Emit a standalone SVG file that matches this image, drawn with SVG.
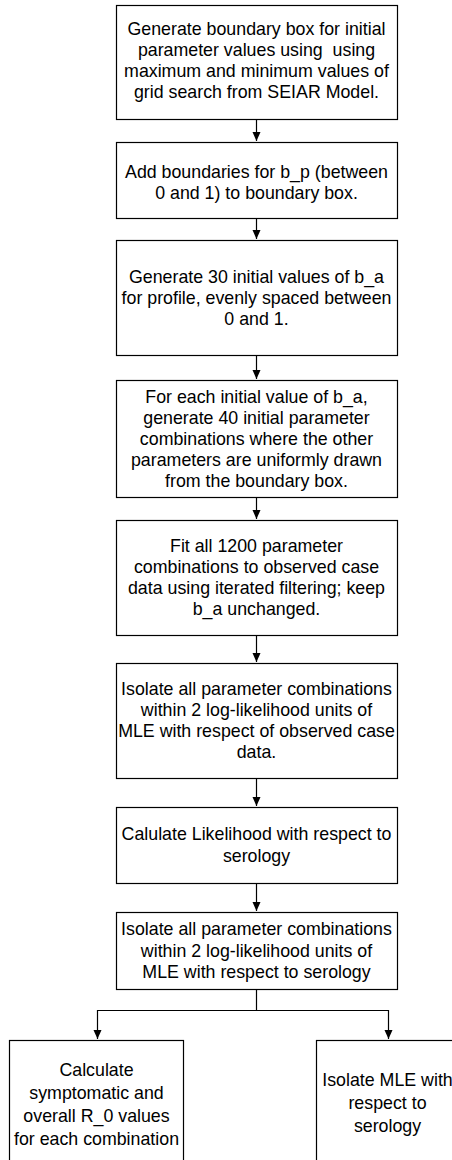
<svg xmlns="http://www.w3.org/2000/svg" width="452" height="1160" viewBox="0 0 452 1160">
<style>
.box{fill:#fff;stroke:#000;stroke-width:1.2}
.t{font-family:"Liberation Sans",Arial,sans-serif;font-size:17.8px;fill:#000;text-anchor:middle}
.c{fill:none;stroke:#000;stroke-width:1.2}
</style>
<defs>
<marker id="ah" markerUnits="userSpaceOnUse" markerWidth="10" markerHeight="10" viewBox="0 0 10 10" refX="9" refY="5" orient="auto">
<path d="M0,1 L9,5 L0,9 Z" fill="#000"/>
</marker>
</defs>
<rect width="452" height="1160" fill="#fff"/>
<g id="connectors">
<path class="c" d="M256.5,119 V141" marker-end="url(#ah)"/>
<path class="c" d="M256.5,218 V239" marker-end="url(#ah)"/>
<path class="c" d="M256.5,355 V379" marker-end="url(#ah)"/>
<path class="c" d="M256.5,497 V519" marker-end="url(#ah)"/>
<path class="c" d="M256.5,635 V662" marker-end="url(#ah)"/>
<path class="c" d="M256.5,778 V806" marker-end="url(#ah)"/>
<path class="c" d="M256.5,883 V911" marker-end="url(#ah)"/>
<path class="c" d="M256.5,989 V1010.5 H97.5 V1039" marker-end="url(#ah)"/>
<path class="c" d="M256.5,1010.5 H388.5 V1039" marker-end="url(#ah)"/>
</g>
<g id="n1">
<rect class="box" x="116.5" y="5.5" width="281" height="114"/>
<text class="t" x="256.5" y="35">Generate boundary box for initial</text>
<text class="t" x="256.5" y="56">parameter values using&#160; using</text>
<text class="t" x="256.5" y="77">maximum and minimum values of</text>
<text class="t" x="256.5" y="98">grid search from SEIAR Model.</text>
</g>
<g id="n2">
<rect class="box" x="116.5" y="142.5" width="281" height="76"/>
<text class="t" x="256.5" y="178">Add boundaries for b_p (between</text>
<text class="t" x="256.5" y="199">0 and 1) to boundary box.</text>
</g>
<g id="n3">
<rect class="box" x="116.5" y="240.5" width="281" height="115"/>
<text class="t" x="256.5" y="282.5">Generate 30 initial values of b_a</text>
<text class="t" x="256.5" y="303.5">for profile, evenly spaced between</text>
<text class="t" x="256.5" y="324.5">0 and 1.</text>
</g>
<g id="n4">
<rect class="box" x="116.5" y="380.5" width="281" height="117"/>
<text class="t" x="256.5" y="402.5">For each initial value of b_a,</text>
<text class="t" x="256.5" y="423.5">generate 40 initial parameter</text>
<text class="t" x="256.5" y="444.5">combinations where the other</text>
<text class="t" x="256.5" y="465.5">parameters are uniformly drawn</text>
<text class="t" x="256.5" y="486.5">from the boundary box.</text>
</g>
<g id="n5">
<rect class="box" x="116.5" y="520.5" width="281" height="115"/>
<text class="t" x="256.5" y="551.5">Fit all 1200 parameter</text>
<text class="t" x="256.5" y="572.5">combinations to observed case</text>
<text class="t" x="256.5" y="593.5">data using iterated filtering; keep</text>
<text class="t" x="256.5" y="614.5">b_a unchanged.</text>
</g>
<g id="n6">
<rect class="box" x="116.5" y="663.5" width="281" height="115"/>
<text class="t" x="256.5" y="694.5">Isolate all parameter combinations</text>
<text class="t" x="256.5" y="715.5">within 2 log-likelihood units of</text>
<text class="t" x="256.5" y="736.5">MLE with respect of observed case</text>
<text class="t" x="256.5" y="757.5">data.</text>
</g>
<g id="n7">
<rect class="box" x="116.5" y="807.5" width="281" height="76"/>
<text class="t" x="256.5" y="840">Calulate Likelihood with respect to</text>
<text class="t" x="256.5" y="862">serology</text>
</g>
<g id="n8">
<rect class="box" x="116.5" y="912.5" width="281" height="77"/>
<text class="t" x="256.5" y="935">Isolate all parameter combinations</text>
<text class="t" x="256.5" y="956.5">within 2 log-likelihood units of</text>
<text class="t" x="256.5" y="978">MLE with respect to serology</text>
</g>
<g id="n9">
<rect class="box" x="9.5" y="1040.5" width="174" height="130"/>
<text class="t" x="96.5" y="1075.5">Calculate</text>
<text class="t" x="96.5" y="1098.5">symptomatic and</text>
<text class="t" x="96.5" y="1121.5">overall R_0 values</text>
<text class="t" x="96.5" y="1144.5">for each combination</text>
</g>
<g id="n10">
<rect class="box" x="316.5" y="1040.5" width="150" height="130"/>
<text class="t" x="387.5" y="1085.5">Isolate MLE with</text>
<text class="t" x="387.5" y="1108.5">respect to</text>
<text class="t" x="387.5" y="1131.5">serology</text>
</g>
</svg>
